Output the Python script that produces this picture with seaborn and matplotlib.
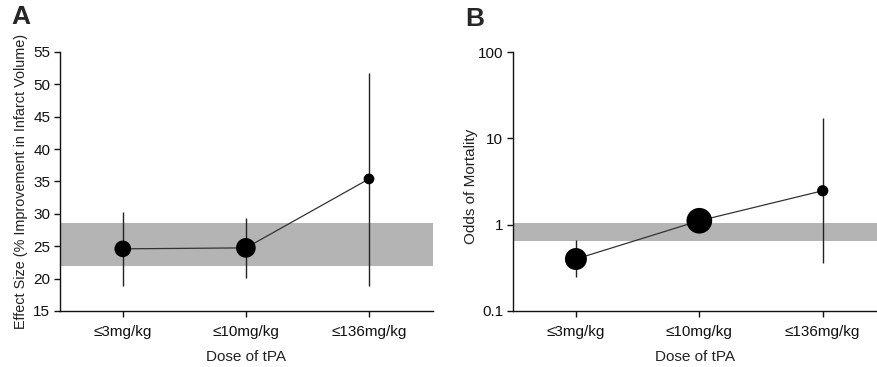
import numpy as np
import pandas as pd
import seaborn as sns
import matplotlib.pyplot as plt

sns.set_style("ticks")
plt.rcParams['font.family'] = ['Liberation Sans', 'DejaVu Sans']

doses = ['≤3mg/kg', '≤10mg/kg', '≤136mg/kg']

# panel A: effect size
effect = [24.6, 24.75, 35.4]
effect_lo = [18.9, 20.15, 18.9]
effect_hi = [30.3, 29.4, 51.8]
effect_size = [144, 200, 60]
effect_band = [22.0, 28.6]

# panel B: odds of mortality
odds = [0.40, 1.11, 2.47]
odds_lo = [0.245, 1.11, 0.36]
odds_hi = [0.66, 1.11, 17.0]
odds_size = [250, 342, 66]
odds_band = [0.65, 1.04]


def panel(ax, vals, lo, hi, sizes, band):
    df = pd.DataFrame({'x': np.arange(len(doses)), 'y': vals, 's': sizes})
    ax.axhspan(band[0], band[1], color='#b4b4b4', lw=0, zorder=0)
    ax.vlines(df['x'], lo, hi, color='#222222', lw=1.0, zorder=2)
    sns.lineplot(data=df, x='x', y='y', ax=ax, color='#333333', lw=0.9, zorder=3)
    sns.scatterplot(data=df, x='x', y='y', size='s', sizes=(min(sizes), max(sizes)),
                    color='black', edgecolor='none', legend=False, ax=ax, zorder=4)
    ax.set_xticks(df['x'])
    ax.set_xticklabels(doses)
    ax.set_xlabel('Dose of tPA', fontsize=11, color='#222222', labelpad=8)
    sns.despine(ax=ax)
    for sp in ['left', 'bottom']:
        ax.spines[sp].set_linewidth(1.0)
        ax.spines[sp].set_color('#111111')
    ax.tick_params(labelsize=11, colors='#111111', length=4, width=1.0, pad=3)
    ax.tick_params(axis='x', pad=6)


fig = plt.figure(figsize=(8.77, 3.67), dpi=100)
axA = fig.add_axes([60 / 877, 56 / 367, 373 / 877, 259 / 367])
axB = fig.add_axes([513 / 877, 56 / 367, 364 / 877, 259 / 367])

panel(axA, effect, effect_lo, effect_hi, effect_size, effect_band)
axA.set_ylim(15, 55)
axA.set_yticks(np.arange(15, 56, 5))
axA.set_xlim(-0.51, 2.52)
axA.set_ylabel('Effect Size (% Improvement in Infarct Volume)', fontsize=10.4, color='#222222', labelpad=4)

panel(axB, odds, odds_lo, odds_hi, odds_size, odds_band)
axB.set_yscale('log')
axB.set_ylim(0.1, 100)
axB.set_yticks([0.1, 1, 10, 100])
axB.set_yticklabels(['0.1', '1', '10', '100'])
axB.minorticks_off()
axB.set_xlim(-0.51, 2.44)
axB.set_ylabel('Odds of Mortality', fontsize=11, color='#222222', labelpad=3)
axB.yaxis.set_label_coords(-0.095, 0.48)

fig.text(11 / 877, 1 - 17 / 367, 'A', fontsize=19, fontweight='bold', va='center')
fig.text(465 / 877, 1 - 19 / 367, 'B', fontsize=19, fontweight='bold', va='center')

fig.savefig('out.png', dpi=100)
